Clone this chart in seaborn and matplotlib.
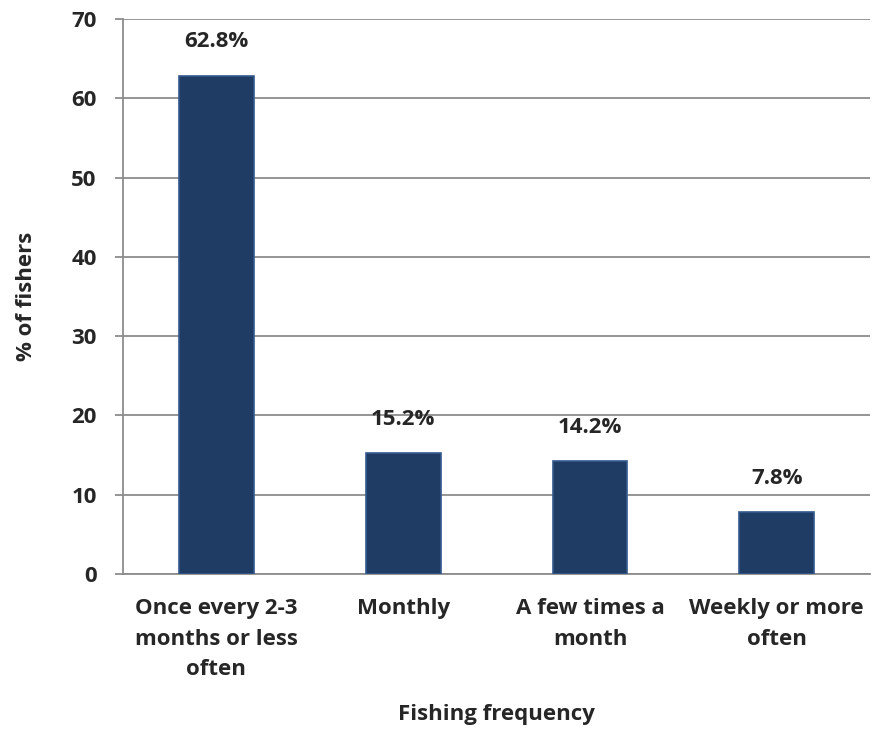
import pandas as pd
import matplotlib.pyplot as plt
import seaborn as sns

# Datos del grafico
categorias = ["Once every 2-3\nmonths or less\noften", "Monthly", "A few times a\nmonth", "Weekly or more\noften"]
porcentajes = [62.8, 15.2, 14.2, 7.8]
etiquetas = ["62.8%", "15.2%", "14.2%", "7.8%"]
yticks = [0, 10, 20, 30, 40, 50, 60, 70]

df = pd.DataFrame({"Frecuencia": categorias, "Porcentaje": porcentajes})

sns.set_style("white")
plt.rcParams['font.family'] = ['Open Sans', 'DejaVu Sans']

fs = 16
fig = plt.figure(figsize=(8.72, 7.31), dpi=100)
ax = fig.add_axes([0.1411, 0.2148, 0.8567, 0.7592])

sns.barplot(data=df, x="Frecuencia", y="Porcentaje", color="#1F3C64", width=0.4,
            saturation=1, edgecolor="#34598c", linewidth=1.2, ax=ax, zorder=3)

# Etiquetas encima de las barras
for i, (v, t) in enumerate(zip(porcentajes, etiquetas)):
    ax.annotate(t, (i, v), xytext=(0, 17), textcoords="offset points",
                ha="center", va="bottom", fontsize=fs, fontweight="bold")

ax.set_ylim(0, 70)
ax.set_xlim(-0.5, 3.5)
ax.set_yticks(yticks)
ax.yaxis.grid(True, color="#8c8c8c", linewidth=1.3, zorder=0)
ax.set_axisbelow(True)

for s in ["top", "right"]:
    ax.spines[s].set_visible(False)
for s in ["left", "bottom"]:
    ax.spines[s].set_color("#8c8c8c")
    ax.spines[s].set_linewidth(1.3)

ax.tick_params(axis="y", which="both", left=True, length=6, width=1.3, color="#8c8c8c",
               labelsize=fs, pad=13)
ax.tick_params(axis="x", bottom=False, labelsize=fs, pad=14)
for lab in ax.get_xticklabels() + ax.get_yticklabels():
    lab.set_fontweight("bold")
    lab.set_linespacing(1.6)

ax.set_xlabel("Fishing frequency", fontsize=fs, fontweight="bold", labelpad=17)
ax.set_ylabel("% of fishers", fontsize=fs, fontweight="bold", labelpad=25)

plt.savefig("out.png", dpi=100)
